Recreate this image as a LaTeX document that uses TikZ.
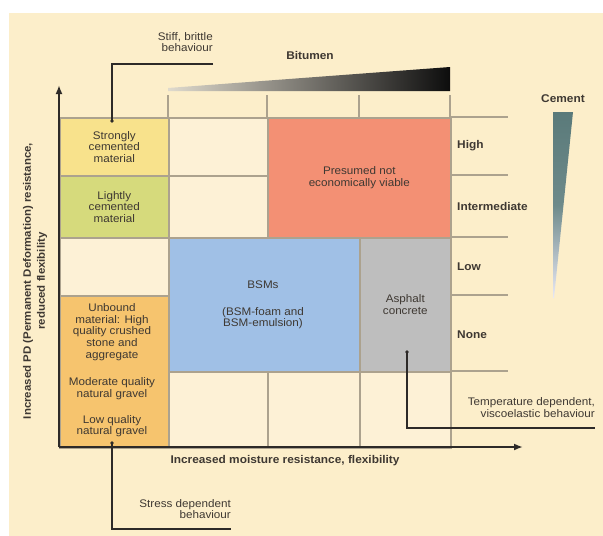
\documentclass[tikz,border=0pt]{standalone}
\usepackage{fontspec}
\setmainfont{Liberation Sans}[FakeStretch=1.06]
\usetikzlibrary{arrows.meta}
\definecolor{bgc}{RGB}{252,238,202}
\definecolor{cellc}{RGB}{253,241,214}
\definecolor{gridc}{RGB}{172,162,142}
\definecolor{txtc}{RGB}{62,56,50}
\definecolor{yelc}{RGB}{248,226,140}
\definecolor{limec}{RGB}{214,218,124}
\definecolor{orac}{RGB}{246,196,110}
\definecolor{salc}{RGB}{243,144,116}
\definecolor{bluc}{RGB}{160,192,230}
\definecolor{grayc}{RGB}{190,190,190}
\definecolor{axc}{RGB}{45,42,40}
\definecolor{cemc}{RGB}{90,122,122}
\definecolor{cemend}{RGB}{232,232,245}
\tikzset{
  cellbox/.style={draw=gridc, line width=1.6pt, anchor=north west, inner sep=0pt,
    font=\fontsize{11}{11.7}\selectfont, text=txtc, align=center},
  celltxt/.style={font=\fontsize{11}{11.7}\selectfont, text=txtc, align=center, inner sep=0pt},
  boldlab/.style={font=\fontsize{11.2}{12}\selectfont\bfseries, text=txtc, inner sep=0pt},
  rowlab/.style={boldlab, anchor=west},
  calltxt/.style={font=\fontsize{11}{11.8}\selectfont, text=txtc, align=right, anchor=east, inner sep=0pt},
  callline/.style={draw=axc, line width=1.1pt},
  dotc/.style={circle, fill=axc, inner sep=0pt, minimum size=3.6pt},
  stub/.style={draw=gridc, line width=1.6pt},
  axis/.style={draw=axc, line width=2pt, -{Latex[length=9pt,width=7pt]}}
}
\begin{document}
\begin{tikzpicture}[x=1pt,y=-1pt]
\useasboundingbox (0,0) rectangle (603,536);
\fill[white] (0,0) rectangle (603,536);
\fill[bgc] (9,13) rectangle (603,536);

% stubs above and right of the grid
\foreach \xx in {168,267,359,450} \draw[stub] (\xx,95) -- (\xx,117);
\foreach \yy in {117,175,237,295,371} \draw[stub] (450,\yy) -- (508,\yy);

% cells
\node[cellbox, fill=yelc, minimum width=109pt, minimum height=58pt] (strong) at (59,117) {Strongly\\cemented\\material};
\node[cellbox, fill=limec, minimum width=109pt, minimum height=62pt] (light) at (59,175) {Lightly\\cemented\\material};
\node[cellbox, fill=cellc, minimum width=109pt, minimum height=58pt] (e1) at (59,237) {};
\node[cellbox, fill=orac, minimum width=109pt, minimum height=152pt] (unbound) at (59,295) {};
\node[cellbox, fill=cellc, minimum width=99pt, minimum height=58pt] (e2) at (168,117) {};
\node[cellbox, fill=cellc, minimum width=99pt, minimum height=62pt] (e3) at (168,175) {};
\node[cellbox, fill=salc, minimum width=183pt, minimum height=120pt] (presumed) at (267,117) {Presumed not\\economically viable};
\node[cellbox, fill=bluc, minimum width=191pt, minimum height=134pt] (bsm) at (168,237) {};
\node[cellbox, fill=grayc, minimum width=91pt, minimum height=134pt] (asphalt) at (359,237) {Asphalt\\concrete};
\node[cellbox, fill=cellc, minimum width=99pt, minimum height=76pt] (e4) at (168,371) {};
\node[cellbox, fill=cellc, minimum width=92pt, minimum height=76pt] (e5) at (267,371) {};
\node[cellbox, fill=cellc, minimum width=91pt, minimum height=76pt] (e6) at (359,371) {};

% texts in cells
\node[celltxt] (t1) at (112,332) {Unbound\\material: High\\quality crushed\\stone and\\aggregate};
\node[celltxt] (t2) at (112,389) {Moderate quality\\natural gravel};
\node[celltxt] (t3) at (112,426) {Low quality\\natural gravel};
\node[celltxt] (t4) at (263,285) {BSMs};
\node[celltxt] (t5) at (263,318) {(BSM-foam and\\BSM-emulsion)};

% axes
\coordinate (o) at (59,447);
\coordinate (ytip) at (59,85);
\coordinate (xtip) at (523,447);
\draw[axis] (o) -- (ytip);
\draw[axis] (o) -- (xtip);
\node[boldlab] (xlab) at (285,461) {Increased moisture resistance, flexibility};
\node[boldlab, font=\fontsize{10.8}{14}\selectfont\bfseries, align=center, rotate=90] (ylab) at (35,281) {Increased PD (Permanent Deformation) resistance,\\reduced flexibility};

% row labels
\node[rowlab] (high) at (457,146) {High};
\node[rowlab] (inter) at (457,206) {Intermediate};
\node[rowlab] (low) at (457,267) {Low};
\node[rowlab] (none) at (457,335) {None};

% bitumen wedge
\shade[left color=bgc!60!gray!60, right color=black!95] (168,90) -- (168,88) -- (450,67) -- (450,91) -- (168,91) -- cycle;
\node[boldlab] (bit) at (310,55) {Bitumen};

% cement wedge
\shade[top color=cemc, bottom color=cemend, middle color=cemc!88!white] (553,112) -- (573,112) -- (554,298) -- (553,298) -- cycle;
\node[boldlab] (cem) at (563,99) {Cement};

% callouts
\node[calltxt] (stiff) at (213,42) {Stiff, brittle\\behaviour};
\coordinate (sbend) at (213,64);
\node[dotc] (sbdot) at (112,121) {};
\draw[callline] (sbend) -| (sbdot.center);

\node[calltxt] (stress) at (231,509) {Stress dependent\\behaviour};
\coordinate (stend) at (231,529);
\node[dotc] (stdot) at (112,443) {};
\draw[callline] (stdot.center) |- (stend);

\node[calltxt] (temp) at (595,407.5) {Temperature dependent,\\viscoelastic behaviour};
\coordinate (tpend) at (595,428);
\node[dotc] (tpdot) at (407,352) {};
\draw[callline] (tpdot.center) |- (tpend);
\end{tikzpicture}
\end{document}
